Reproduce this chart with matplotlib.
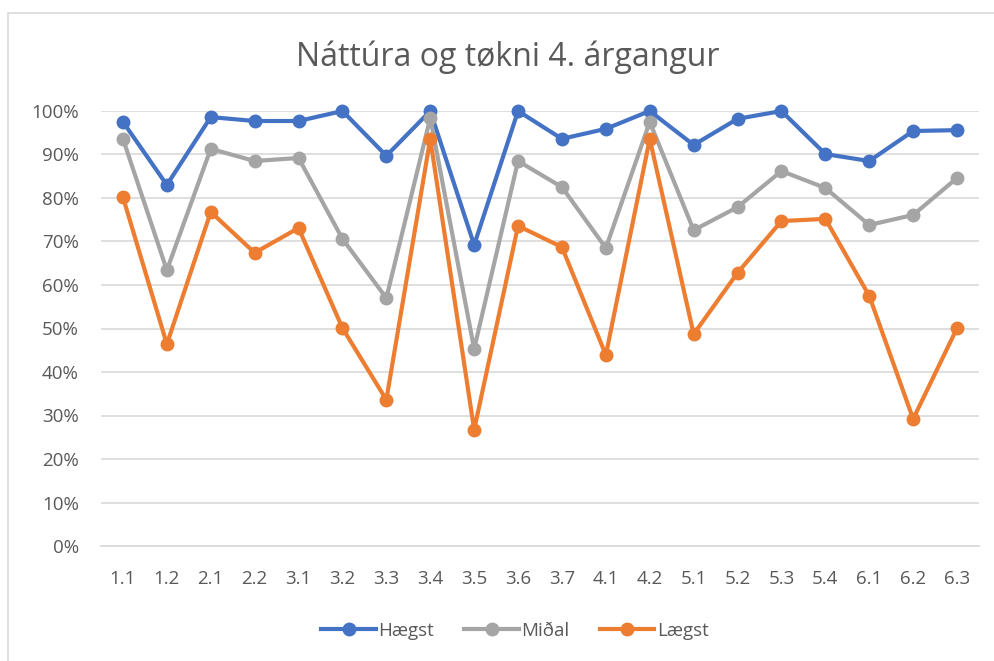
import matplotlib
matplotlib.use("Agg")
import matplotlib.pyplot as plt
from matplotlib.patches import Rectangle
from matplotlib.ticker import FuncFormatter

categories = ["1.1", "1.2", "2.1", "2.2", "3.1", "3.2", "3.3", "3.4", "3.5", "3.6",
              "3.7", "4.1", "4.2", "5.1", "5.2", "5.3", "5.4", "6.1", "6.2", "6.3"]
haegst = [97.5, 83.0, 98.6, 97.7, 97.7, 100.0, 89.7, 100.0, 69.2, 100.0,
          93.6, 95.9, 100.0, 92.2, 98.2, 100.0, 90.1, 88.5, 95.4, 95.6]
midal = [93.6, 63.4, 91.3, 88.5, 89.2, 70.6, 57.0, 98.4, 45.3, 88.5,
         82.5, 68.5, 97.5, 72.6, 77.9, 86.2, 82.3, 73.8, 76.1, 84.6]
laegst = [80.2, 46.4, 76.8, 67.4, 73.1, 50.1, 33.6, 93.6, 26.7, 73.6,
          68.7, 43.9, 93.6, 48.7, 62.8, 74.7, 75.2, 57.5, 29.2, 50.1]
series_names = ["Hægst", "Miðal", "Lægst"]
colors = ["#4472C4", "#A5A5A5", "#ED7D31"]

plt.rcParams['font.family'] = ['Open Sans', 'DejaVu Sans']

fig = plt.figure(figsize=(9.95, 6.61), dpi=100)
fig.patches.append(Rectangle((8/995, -0.1), 1.2, (661-13)/661 + 0.1,
                             transform=fig.transFigure, fill=False,
                             edgecolor="#D9D9D9", linewidth=1.2))

ax = fig.add_axes([101/995, 1-546/661, (979-101)/995, (546-111)/661])
x = list(range(len(categories)))
for vals, name, c in zip([haegst, midal, laegst], series_names, colors):
    ax.plot(x, vals, color=c, linewidth=3, marker='o', markersize=9,
            label=name, clip_on=False, zorder=3)

ax.set_xlim(-0.5, len(categories) - 0.5)
ax.set_ylim(0, 100)
ax.set_yticks(range(0, 101, 10))
ax.yaxis.set_major_formatter(FuncFormatter(lambda v, p: f"{int(v)}%"))
ax.set_xticks(x)
ax.set_xticklabels(categories)
ax.grid(axis='y', color="#D9D9D9", linewidth=1.2, zorder=0)
for s in ["top", "right", "left"]:
    ax.spines[s].set_visible(False)
ax.spines["bottom"].set_color("#D9D9D9")
ax.spines["bottom"].set_linewidth(1.2)
ax.tick_params(axis='both', length=0, labelsize=13.5, colors="#595959")
ax.tick_params(axis='x', pad=17)
ax.tick_params(axis='y', pad=16)

fig.text(508/995, 1-57/661, "Náttúra og tøkni 4. árgangur", ha='center', va='center',
         fontsize=23, color="#595959")

leg = fig.legend(loc='center', bbox_to_anchor=(515/995, 1-631/661), ncol=3,
                 frameon=False, fontsize=13.5, handlelength=2.9, columnspacing=1.6,
                 handletextpad=0.15)
for t in leg.get_texts():
    t.set_color("#595959")

fig.savefig("out.png", dpi=100)
